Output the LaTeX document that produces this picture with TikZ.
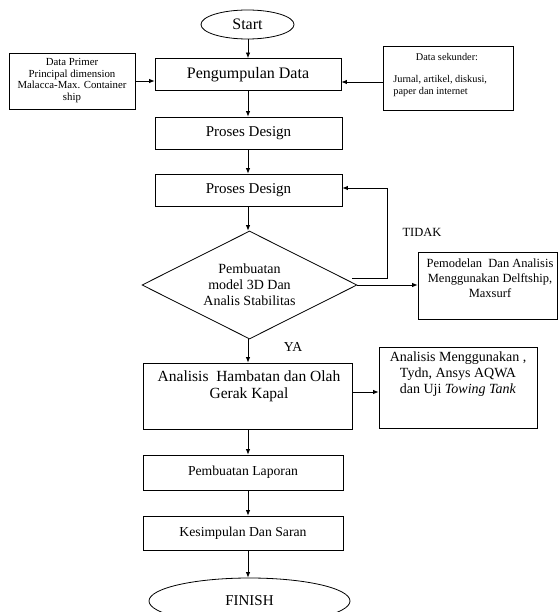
\documentclass[tikz,border=0pt]{standalone}
\usepackage{fontspec}
\setmainfont{Liberation Serif}
\usetikzlibrary{arrows.meta,shapes.geometric}
\begin{document}
\begin{tikzpicture}[x=1pt,y=-1pt,line width=0.8pt,
  box/.style={draw,rectangle,inner sep=0pt},
  oval/.style={draw,ellipse,inner sep=0pt},
  txt/.style={inner sep=0pt,align=center},
  arr/.style={-{Latex[length=5.5pt,width=4.5pt]}},
  f16/.style={font=\fontsize{16}{19}\selectfont},
  f15/.style={font=\fontsize{15}{17}\selectfont},
  f14/.style={font=\fontsize{14}{16}\selectfont},
  f13/.style={font=\fontsize{13.7}{16}\selectfont},
  f12/.style={font=\fontsize{12.5}{15}\selectfont},
  f11/.style={font=\fontsize{10.8}{11.7}\selectfont},
  f10/.style={font=\fontsize{10.3}{12}\selectfont}]
\useasboundingbox (0,0) rectangle (558,612);
\coordinate (axis) at (248,0);

% main column
\node[oval,f16,minimum width=93pt,minimum height=29pt] (start) at (247.5,24.5) {Start};
\node[box,f16,minimum width=186pt,minimum height=32pt] (peng) at (248,74.5) {Pengumpulan Data};
\node[box,f15,minimum width=187pt,minimum height=32pt] (pd1) at (248.5,133) {Proses Design};
\node[box,f15,minimum width=187pt,minimum height=32pt] (pd2) at (248.5,190) {Proses Design};
\node[draw,diamond,aspect=2,inner sep=0pt,minimum width=215pt,minimum height=108pt,
      f14,align=center] (dia) at (249.5,285) {Pembuatan\\model 3D Dan\\Analis Stabilitas};
\node[box,minimum width=209pt,minimum height=66pt] (ham) at (247.5,396) {};
\node[txt,font=\fontsize{15.5}{17}\selectfont] (hamt) at (249,386.5) {Analisis\ \ Hambatan dan Olah\\Gerak Kapal};
\node[box,f13,minimum width=200pt,minimum height=35pt] (lap) at (243,472.5) {Pembuatan Laporan};
\node[box,f13,minimum width=200pt,minimum height=34pt] (kes) at (243,533) {Kesimpulan Dan Saran};
\node[oval,f15,minimum width=201pt,minimum height=46pt] (fin) at (249.5,601) {FINISH};

% side boxes
\node[box,minimum width=126pt,minimum height=56pt] (prim) at (72,81) {};
\node[txt,f11] (primt) at (72,80.5) {Data Primer\\Principal dimension\\Malacca-Max. Container\\ship};
\node[box,minimum width=130pt,minimum height=64pt] (sek) at (448,78) {};
\node[txt,f10] (sekt1) at (447,57) {Data sekunder:};
\node[txt,f10,align=left,anchor=west] (sekt2) at (393,86) {Jurnal, artikel, diskusi,\\paper dan internet};
\node[box,minimum width=139pt,minimum height=67pt] (pem) at (487.5,285.5) {};
\node[txt,f12] (pemt) at (490,278) {Pemodelan\ \ Dan Analisis\\Menggunakan Delftship,\\Maxsurf};
\node[box,minimum width=158pt,minimum height=81pt] (am) at (458,387.5) {};
\node[txt,f14] (amt) at (458,374) {Analisis Menggunakan ,\\Tydn, Ansys AQWA\\dan Uji \textit{Towing Tank}};

% labels
\node[txt,f12] (tidak) at (422,232) {TIDAK};
\node[txt,f13] (ya) at (293,347) {YA};

% connectors
\draw[arr] (start.south -| axis) -- (peng.north -| axis);
\draw[arr] (peng.south -| axis) -- (pd1.north -| axis);
\draw[arr] (pd1.south -| axis) -- (pd2.north -| axis);
\draw[arr] (pd2.south -| axis) -- (dia.north -| axis);
\draw[arr] (dia.south -| axis) -- (ham.north -| axis);
\draw[arr] (ham.south -| axis) -- (lap.north -| axis);
\draw[arr] (lap.south -| axis) -- (kes.north -| axis);
\draw[arr] (kes.south -| axis) -- (fin.north -| axis);
\draw[arr] (prim.east) -- (prim.east -| peng.west);
\draw[arr] ([yshift=-4pt]sek.west) -- ([yshift=-4pt]sek.west -| peng.east);
\coordinate (fb0) at (352,278);
\coordinate (fb1) at (387,278);
\draw[arr] (fb0) -- (fb1) |- ([yshift=2pt]pd2.east);
\draw[arr] (dia.east) -- (dia.east -| pem.west);
\draw[arr] ([yshift=4pt]ham.east) -- ([yshift=4pt]ham.east -| am.west);
\end{tikzpicture}
\end{document}
